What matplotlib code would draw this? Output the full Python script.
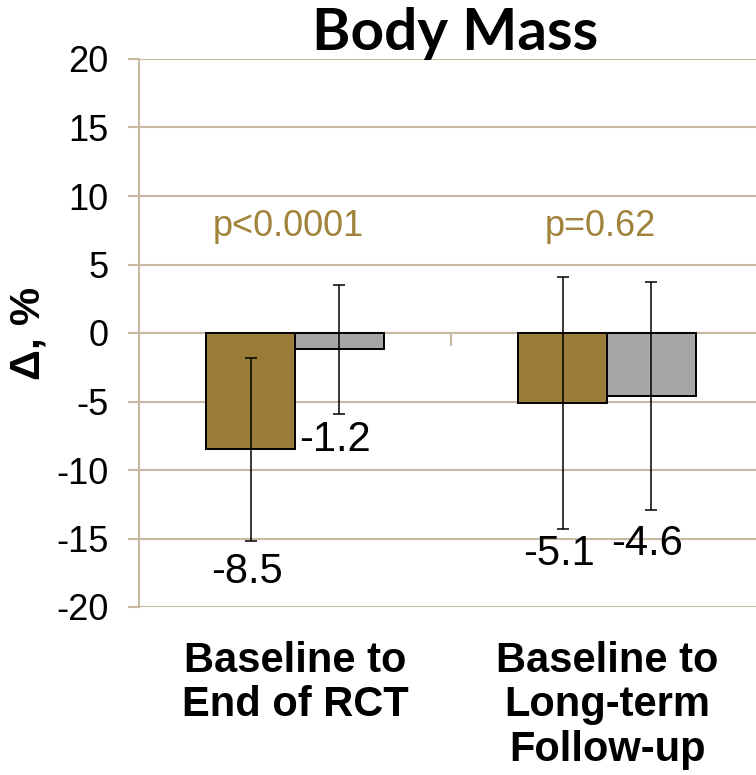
import matplotlib
matplotlib.use("Agg")
import matplotlib.pyplot as plt
import numpy as np

# Percent change in body mass, two groups per period
categories = ["Baseline to\nEnd of RCT", "Baseline to\nLong-term\nFollow-up"]
group_a = [-8.5, -5.1]
group_b = [-1.2, -4.6]
err_a = [6.7, 9.2]
err_b = [4.7, 8.3]
p_values = ["p<0.0001", "p=0.62"]

BROWN = "#9A7B38"
GRAY = "#A6A6A6"
GRID = "#C8B9A3"
PTEXT = "#A0823A"

plt.rcParams["font.family"] = ["Liberation Sans", "DejaVu Sans"]
plt.rcParams["axes.unicode_minus"] = False

fig = plt.figure(figsize=(7.56, 7.75), dpi=100)
ax = fig.add_axes([139 / 756, 1 - 607 / 775, 624 / 756, 548 / 775])

x = np.arange(len(categories))
w = 0.285
ax.bar(x - w / 2, group_a, w, color=BROWN, edgecolor="black", linewidth=1.4, zorder=3)
ax.bar(x + w / 2, group_b, w, color=GRAY, edgecolor="black", linewidth=1.4, zorder=3)
ax.errorbar(x - w / 2, group_a, yerr=err_a, fmt="none", ecolor="black",
            elinewidth=1.1, capsize=4.5, capthick=1.1, zorder=4)
ax.errorbar(x + w / 2, group_b, yerr=err_b, fmt="none", ecolor="black",
            elinewidth=1.1, capsize=4.5, capthick=1.1, zorder=4)

# value labels (heights in data units, placed by hand)
label_y_a = [-17.45, -16.1]
label_y_b = [-7.8, -15.4]
for i in range(len(categories)):
    ax.text(x[i] - w / 2 - 0.01, label_y_a[i], f"{group_a[i]:.1f}", ha="center",
            va="center", fontsize=30, zorder=5)
    ax.text(x[i] + w / 2 - 0.015, label_y_b[i], f"{group_b[i]:.1f}", ha="center",
            va="center", fontsize=30, zorder=5)
    ax.text(x[i] - 0.02, 7.8, p_values[i], ha="center", va="center",
            fontsize=26, color=PTEXT)
    ax.text(x[i], -0.062, categories[i], transform=ax.get_xaxis_transform(),
            ha="center", va="top", fontsize=30, fontweight="bold", linespacing=1.14)

ax.set_xlim(-0.5, 1.5)
ax.set_ylim(-20, 20)
ax.set_yticks(np.arange(-20, 21, 5))
ax.yaxis.grid(True, color=GRID, linewidth=1.5, zorder=0)
ax.set_axisbelow(True)
ax.tick_params(axis="y", length=8, width=1.5, color=GRID, pad=14, labelsize=26)

# category axis crosses at zero with a divider tick between groups
ax.spines["bottom"].set_position(("data", 0))
ax.spines["bottom"].set_color(GRID)
ax.spines["bottom"].set_linewidth(1.5)
ax.set_xticks([0.5])
ax.set_xticklabels([""])
ax.tick_params(axis="x", length=9, width=1.5, color=GRID, direction="out")
ax.spines["left"].set_color(GRID)
ax.spines["left"].set_linewidth(1.5)
ax.spines["top"].set_visible(False)
ax.spines["right"].set_visible(False)

fig.text(29 / 756, 1 - 333 / 775, "Δ, %", rotation=90, ha="center", va="center",
         fontsize=31, fontweight="bold")
fig.text(455 / 756, 1 - 33 / 775, "Body Mass", ha="center", va="center",
         fontsize=42, fontweight="bold", family=["Lato", "DejaVu Sans"])

fig.savefig("out.png", dpi=100)
